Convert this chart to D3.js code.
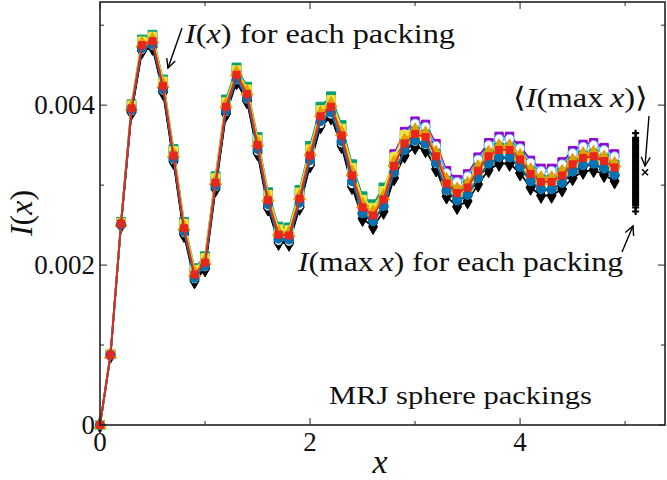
<!DOCTYPE html>
<html><head><meta charset="utf-8">
<script src="https://cdn.jsdelivr.net/npm/d3@7"></script>
<style>body{margin:0;background:#fff} svg text{font-family:"Liberation Serif","Times New Roman",Tinos,Times,serif}</style>
</head><body><svg id="c" width="667" height="480"></svg>
<script>
// values in units of 1e-5
const UNIT = 1e-5;
const xValues = [0,0.1,0.2,0.3,0.4,0.5,0.6,0.7,0.8,0.9,1,1.1,1.2,1.3,1.4,1.5,1.6,1.7,1.8,1.9,2,2.1,2.2,2.3,2.4,2.5,2.6,2.7,2.8,2.9,3,3.1,3.2,3.3,3.4,3.5,3.6,3.7,3.8,3.9,4,4.1,4.2,4.3,4.4,4.5,4.6,4.7,4.8,4.9];
const packingBlack  = [0,87,250,391,468,472,416,329,238,180,195,295,389,429,405,340,271,228,227,272,325,374,385,349,298,258,248,267,309,337,348,344,320,286,273,280,301,319,327,327,315,297,287,287,295,309,317,319,313,305];
const packingOpen   = [0,87,250,392,469,474,418,331,240,182,197,297,391,431,407,342,273,230,229,274,327,376,388,352,301,264,254,273,315,343,354,350,326,292,280,287,308,326,334,334,322,304,294,294,302,316,324,326,320,312];
const packingPurple = [0,88,252,397,476,482,426,339,248,190,205,305,400,440,416,352,283,240,239,285,339,388,401,365,315,275,265,285,339,367,380,376,352,318,307,314,335,353,361,361,349,331,321,321,329,343,351,353,347,339];
const packingSky    = [0,88,253,398,478,484,428,341,250,192,207,307,402,442,418,355,286,243,242,288,343,392,404,368,319,279,269,290,336,364,377,373,349,315,304,311,332,350,358,358,346,328,318,318,326,340,348,350,344,336];
const packingGreen  = [0,89,254,401,482,488,432,345,254,196,211,311,407,447,423,360,291,248,247,294,349,398,411,375,326,286,276,297,327,355,367,363,339,305,293,300,321,339,347,347,335,317,307,307,315,329,337,339,333,325];
const packingYellow = [0,89,253,400,480,486,430,343,252,194,209,309,404,444,420,357,288,245,244,291,345,394,407,371,322,282,272,293,335,363,361,357,333,299,287,294,315,333,341,341,329,311,301,301,309,323,331,333,327,319];
const packingOrange = [0,88,253,398,477,482,426,339,248,190,205,305,401,441,417,353,284,241,240,286,341,390,402,366,316,276,266,286,328,356,369,365,341,307,295,302,323,341,349,349,337,319,309,309,317,331,339,341,335,327];
const packingBlue   = [0,88,251,394,471,476,420,333,242,184,199,299,393,433,409,345,276,233,232,278,331,380,391,355,305,265,255,274,316,344,356,352,328,294,281,288,309,327,335,335,323,305,295,295,303,317,325,327,321,313];
const packingRed    = [0,88,252,396,475,480,424,337,246,188,203,303,398,438,414,350,281,238,237,283,337,386,398,362,312,272,262,282,324,352,364,360,336,302,290,297,318,336,344,344,332,314,304,304,312,326,334,336,330,322];
const maxXPosition = 5.1;
const maxXValues = [365,359,357,355,353,351,349,347,345,343,341,339,337,335,333,331,329,327,325,323,321,319,317,315,313,311,309,307,305,303,301,299,297,295,293,291,289,287,285,283,281,279,277,275,272,267];
const meanPosition = 5.19;
const meanValue = 316;
const xMajorTicks = [0,2,4];
const xMinorTicks = [1,3,5];
const xTickLabels = ["0","2","4"];
const yMajorTicks = [0,0.002,0.004];
const yMinorTicks = [0.001,0.003,0.005];
const yTickLabels = ["0","0.002","0.004"];

const styles = [
  {v:packingBlack,  c:"#000000", f:"#000000", s:d3.symbolDiamond, sz:70},
  {v:packingOpen,   c:"#000000", f:"#ffffff", s:d3.symbolCircle,  sz:60},
  {v:packingPurple, c:"#9400D3", f:"#9400D3", s:d3.symbolSquare,  sz:70},
  {v:packingSky,    c:"#56B4E9", f:"#ffffff", s:d3.symbolCircle,  sz:65},
  {v:packingGreen,  c:"#009E73", f:"#009E73", s:d3.symbolSquare,  sz:80},
  {v:packingYellow, c:"#F0E442", f:"#F0E442", s:d3.symbolSquare,  sz:70},
  {v:packingOrange, c:"#E69F00", f:"#E69F00", s:d3.symbolTriangle,sz:65},
  {v:packingBlue,   c:"#0072B2", f:"#0072B2", s:d3.symbolCircle,  sz:65},
  {v:packingRed,    c:"#E8261E", f:"#E8261E", s:d3.symbolSquare,  sz:50}
];

const svg = d3.select("#c");
const L=100,R=665,T=2,B=425;
const x = d3.scaleLinear().domain([0,5.38]).range([L,R]);
const y = d3.scaleLinear().domain([0,0.00529]).range([B,T]);

const plot = svg.append("g");
const line = d3.line().x((d,i)=>x(xValues[i])).y(d=>y(d*UNIT));
styles.forEach(st=>{
  const g = plot.append("g");
  g.append("path").datum(st.v).attr("d",line).attr("fill","none").attr("stroke",st.c).attr("stroke-width",1.8);
  g.selectAll("path.m").data(st.v).join("path").attr("class","m")
    .attr("transform",(d,i)=>`translate(${x(xValues[i])},${y(d*UNIT)})`)
    .attr("d",d3.symbol().type(st.s).size(st.sz))
    .attr("fill",st.f).attr("stroke",st.c).attr("stroke-width",1);
});

// I(max x) markers
plot.selectAll("path.p").data(maxXValues).join("path").attr("class","p")
  .attr("transform",d=>`translate(${x(maxXPosition)},${y(d*UNIT)})`)
  .attr("d","M-3.5,0H3.5M0,-3.5V3.5").attr("stroke","#000").attr("stroke-width",2.2).attr("fill","none");
plot.append("path").attr("transform",`translate(${x(meanPosition)},${y(meanValue*UNIT)})`)
  .attr("d","M-3,-3L3,3M-3,3L3,-3").attr("stroke","#000").attr("stroke-width",1.5);

// frame & ticks
const ax = svg.append("g").attr("stroke","#222").attr("fill","none");
ax.append("rect").attr("x",L).attr("y",T).attr("width",R-L).attr("height",B-T).attr("stroke-width",1.6);
xMajorTicks.forEach(t=>{ax.append("line").attr("x1",x(t)).attr("x2",x(t)).attr("y1",B).attr("y2",B-7);
  ax.append("line").attr("x1",x(t)).attr("x2",x(t)).attr("y1",T).attr("y2",T+7);});
xMinorTicks.forEach(t=>{ax.append("line").attr("x1",x(t)).attr("x2",x(t)).attr("y1",B).attr("y2",B-4);
  ax.append("line").attr("x1",x(t)).attr("x2",x(t)).attr("y1",T).attr("y2",T+4);});
yMajorTicks.forEach(t=>{ax.append("line").attr("y1",y(t)).attr("y2",y(t)).attr("x1",L).attr("x2",L+7);
  ax.append("line").attr("y1",y(t)).attr("y2",y(t)).attr("x1",R).attr("x2",R-7);});
yMinorTicks.forEach(t=>{ax.append("line").attr("y1",y(t)).attr("y2",y(t)).attr("x1",L).attr("x2",L+4);
  ax.append("line").attr("y1",y(t)).attr("y2",y(t)).attr("x1",R).attr("x2",R-4);});

const FS=27;
const txt = svg.append("g").attr("fill","#111");
xMajorTicks.forEach((t,i)=>txt.append("text").attr("x",x(t)).attr("y",451).attr("text-anchor","middle").attr("font-size",FS).text(xTickLabels[i]));
yMajorTicks.forEach((t,i)=>txt.append("text").attr("x",95).attr("y",y(t)+9).attr("text-anchor","end").attr("font-size",FS).text(yTickLabels[i]));

txt.append("text").attr("x",380).attr("y",473).attr("text-anchor","middle").attr("font-size",34).attr("font-style","italic").text("x");
const yl = txt.append("text").attr("transform","translate(32,213) rotate(-90)").attr("text-anchor","middle").attr("font-size",32);
yl.append("tspan").attr("font-style","italic").text("I");
yl.append("tspan").text("(");
yl.append("tspan").attr("font-style","italic").text("x");
yl.append("tspan").text(")");

function mathText(px,py,fs,len,parts){
  const t = txt.append("text").attr("x",px).attr("y",py).attr("font-size",fs);
  parts.forEach(p=>t.append("tspan").attr("font-style",p[1]?"italic":null).text(p[0]));
  if(len) t.attr("textLength",len).attr("lengthAdjust","spacingAndGlyphs");
  return t;
}
mathText(185,43,28,270,[["I",1],["(",0],["x",1],[") for each packing",0]]);
mathText(513,107,28,135,[["\u27E8",0],["I",1],["(max\u2009",0],["x",1],[")\u27E9",0]]);
mathText(298,271,28,325,[["I",1],["(max\u2009",0],["x",1],[") for each packing",0]]);
mathText(329,404,26,263,[["MRJ sphere packings",0]]);

// arrows
const defs = svg.append("defs");
defs.append("marker").attr("id","ah").attr("viewBox","-10 -6 12 12").attr("markerWidth",12).attr("markerHeight",12)
  .attr("refX",0).attr("refY",0).attr("orient","auto").attr("markerUnits","userSpaceOnUse")
  .append("path").attr("d","M-9,-4.5L0,0L-9,4.5").attr("fill","none").attr("stroke","#000").attr("stroke-width",1.4);
[[182,28,168,68],[649,116,645,166],[622,252,633,226]].forEach(a=>{
  svg.append("line").attr("x1",a[0]).attr("y1",a[1]).attr("x2",a[2]).attr("y2",a[3])
    .attr("stroke","#000").attr("stroke-width",1.4).attr("marker-end","url(#ah)");
});
</script></body></html>
